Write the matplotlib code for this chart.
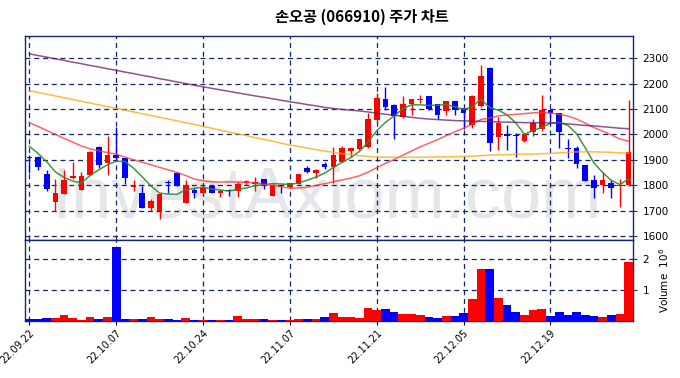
import matplotlib
matplotlib.use('Agg')
import matplotlib.pyplot as plt
import matplotlib.ticker as mticker
import numpy as np
import pandas as pd

plt.rcParams['font.family'] = ['DejaVu Sans']
plt.rcParams['font.size'] = 7

# 일봉 데이터
opens = [1912, 1909, 1843, 1732, 1766, 1828, 1782, 1840, 1951, 1888,
         1918, 1905, 1794, 1769, 1711, 1700, 1813, 1849, 1730, 1782,
         1768, 1798, 1768, 1782, 1778, 1808, 1805, 1823, 1758, 1800,
         1793, 1804, 1866, 1849, 1883, 1873, 1893, 1935, 1943, 1949,
         2057, 2138, 2115, 2067, 2120, 2136, 2150, 2118, 2093, 2131,
         2102, 2038, 2111, 2262, 1988, 2001, 1998, 1972, 2008, 2020,
         2095, 2082, 1946, 1945, 1879, 1820, 1800, 1807, 1795, 1800]
highs = [1918, 1913, 1860, 1823, 1861, 1890, 1850, 1933, 1953, 1993,
         2030, 1907, 1819, 1798, 1747, 1768, 1820, 1850, 1820, 1790,
         1795, 1800, 1785, 1785, 1814, 1822, 1832, 1825, 1803, 1802,
         1810, 1845, 1874, 1862, 1890, 1950, 1955, 1948, 1982, 2085,
         2162, 2187, 2118, 2150, 2140, 2154, 2152, 2120, 2133, 2133,
         2105, 2153, 2272, 2266, 2069, 2037, 2004, 2005, 2060, 2154,
         2098, 2085, 1980, 1954, 1880, 1838, 1852, 1822, 1823, 2135]
lows = [1846, 1859, 1777, 1700, 1766, 1826, 1780, 1838, 1866, 1839,
        1903, 1806, 1776, 1711, 1700, 1668, 1770, 1797, 1730, 1748,
        1765, 1768, 1755, 1758, 1752, 1800, 1778, 1785, 1758, 1768,
        1790, 1803, 1846, 1830, 1862, 1808, 1890, 1912, 1940, 1945,
        2045, 2095, 1980, 2065, 2078, 2122, 2095, 2060, 2078, 2078,
        2020, 2024, 2108, 1935, 1940, 1938, 1912, 1968, 1992, 2015,
        2040, 1947, 1906, 1866, 1815, 1748, 1768, 1750, 1715, 1798]
closes = [1906, 1872, 1785, 1768, 1819, 1836, 1835, 1931, 1881, 1918,
          1905, 1830, 1800, 1711, 1737, 1766, 1808, 1797, 1799, 1768,
          1790, 1768, 1778, 1778, 1804, 1816, 1814, 1797, 1800, 1795,
          1807, 1844, 1853, 1859, 1873, 1917, 1945, 1947, 1980, 2059,
          2141, 2109, 2074, 2119, 2138, 2140, 2098, 2078, 2131, 2096,
          2085, 2151, 2229, 1965, 2046, 1992, 1995, 2001, 2046, 2095,
          2085, 2008, 1943, 1882, 1817, 1787, 1820, 1787, 1800, 1929]
volumes = [50000, 50000, 86000, 86000, 180000, 86000, 30000, 120000, 54000, 120000,
           2390000, 54000, 54000, 54000, 120000, 54000, 54000, 20000, 86000, 20000,
           20000, 20000, 20000, 20000, 150000, 54000, 54000, 54000, 20000, 20000,
           20000, 54000, 54000, 54000, 120000, 250000, 110000, 110000, 75000, 410000,
           340000, 380000, 280000, 215000, 215000, 180000, 110000, 75000, 150000, 150000,
           250000, 700000, 1670000, 1670000, 730000, 510000, 280000, 180000, 340000, 380000,
           150000, 280000, 180000, 280000, 180000, 150000, 110000, 180000, 215000, 1890000]

# 이동평균 (앞부분은 그림에서 읽은 값, 나머지는 종가로 계산)
ma5_head = [1953, 1925, 1892, 1852]
ma20_head = [2046, 2031, 2015, 2000, 1984, 1969, 1954, 1943, 1935, 1928,
             1922, 1910, 1900, 1890, 1880, 1870, 1860, 1850, 1838]
ma60 = [2172, 2165, 2158, 2151, 2144, 2137, 2130, 2123, 2116, 2109,
        2102, 2095, 2088, 2081, 2074, 2067, 2060, 2053, 2046, 2039,
        2031, 2024, 2016, 2009, 2002, 1995, 1987, 1980, 1973, 1965,
        1958, 1952, 1946, 1940, 1934, 1929, 1924, 1920, 1916, 1913,
        1911, 1910, 1910, 1910, 1910, 1910, 1910, 1911, 1911, 1912,
        1913, 1914, 1916, 1918, 1919, 1920, 1921, 1922, 1922, 1924,
        1925, 1927, 1929, 1931, 1931, 1931, 1930, 1929, 1927, 1926]
ma120 = [2317, 2310, 2304, 2297, 2291, 2284, 2278, 2271, 2265, 2258,
         2252, 2245, 2239, 2232, 2226, 2219, 2213, 2206, 2200, 2193,
         2187, 2181, 2175, 2169, 2163, 2157, 2151, 2146, 2140, 2134,
         2128, 2123, 2117, 2112, 2106, 2102, 2098, 2095, 2092, 2088,
         2083, 2079, 2075, 2071, 2067, 2063, 2060, 2058, 2056, 2054,
         2053, 2052, 2051, 2050, 2049, 2048, 2047, 2046, 2046, 2045,
         2045, 2044, 2041, 2038, 2035, 2033, 2030, 2027, 2024, 2022]

tick_pos = [0, 10, 20, 30, 40, 50, 60]
tick_labels = ['22.09.22', '22.10.07', '22.10.24', '22.11.07',
               '22.11.21', '22.12.05', '22.12.19']

o = np.array(opens); h = np.array(highs); l = np.array(lows); c = np.array(closes)
v = np.array(volumes)
x = np.arange(len(c))

ma5 = pd.Series(c).rolling(5).mean().to_numpy()
ma5[:4] = ma5_head
ma20 = pd.Series(c).rolling(20).mean().to_numpy()
ma20[:19] = ma20_head

up = c >= o
colors = np.where(up, '#ff0000', '#0000ff')

navy = '#15266a'
grid_kw = dict(color=navy, linestyle=(0, (4, 3)), linewidth=0.9)

fig = plt.figure(figsize=(6.8, 3.78), dpi=100)
ax = fig.add_axes([25 / 680, 1 - 239.5 / 378, 608 / 680, 203.5 / 378])
axv = fig.add_axes([25 / 680, 1 - 320.7 / 378, 608 / 680, 81.2 / 378], sharex=ax)

# 워터마크
ax.text(327 / 680, 1 - 218 / 378, 'InvestAxiom.com', transform=fig.transFigure,
        ha='center', va='baseline', fontsize=52, color='#e5e5ea',
        family='Liberation Sans', zorder=0, clip_on=False)

# 캔들
ax.vlines(x, l, h, colors=colors, linewidth=1.0, zorder=3)
body_bottom = np.minimum(o, c)
body_h = np.maximum(np.abs(c - o), 4)
ax.bar(x, body_h, bottom=body_bottom, width=0.65, color=colors, zorder=4)

# 이동평균선
ax.plot(x, ma5, color='#2e8b2e', linewidth=1.1, alpha=0.9, zorder=5)
ax.plot(x, ma20, color='#ff3030', linewidth=1.1, alpha=0.75, zorder=5)
ax.plot(x, ma60, color='#ffa500', linewidth=1.1, alpha=0.75, zorder=5)
ax.plot(x, ma120, color='#6a1a6a', linewidth=1.1, alpha=0.75, zorder=5)

ax.set_xlim(-0.5, 69.5)
ax.set_ylim(1586, 2387)
ax.set_yticks(np.arange(1600, 2301, 100))
ax.yaxis.tick_right()
ax.tick_params(axis='y', length=3, color='#333333', labelsize=7.5, pad=4)
ax.tick_params(axis='x', bottom=False, labelbottom=False)
ax.set_xticks(tick_pos)
ax.grid(True, **grid_kw)

# 거래량
axv.bar(x, v, width=1.0, color=colors, zorder=3)
axv.set_ylim(0, 2.62e6)
axv.set_yticks([1e6, 2e6])
axv.yaxis.set_major_formatter(mticker.FuncFormatter(lambda val, pos: f'{val / 1e6:.0f}'))
axv.yaxis.tick_right()
axv.yaxis.set_label_position('right')
axv.set_ylabel(r'Volume  $10^6$', fontsize=7.5, labelpad=6)
axv.tick_params(axis='y', length=3, color='#333333', labelsize=7.5, pad=4)
axv.set_xticks(tick_pos)
axv.set_xticklabels(tick_labels, rotation=45, ha='right', rotation_mode='anchor')
axv.tick_params(axis='x', length=3, labelsize=7, pad=2)
axv.grid(True, **grid_kw)

for a in (ax, axv):
    for s in a.spines.values():
        s.set_color(navy)
        s.set_linewidth(1.0)
    a.set_axisbelow(True)

fig.text(362 / 680, 1 - 17 / 378, '손오공 (066910) 주가 차트', ha='center', va='center',
         fontsize=11, fontweight='bold', family=['Noto Sans CJK KR', 'DejaVu Sans'])

fig.savefig('out.png', dpi=100)
